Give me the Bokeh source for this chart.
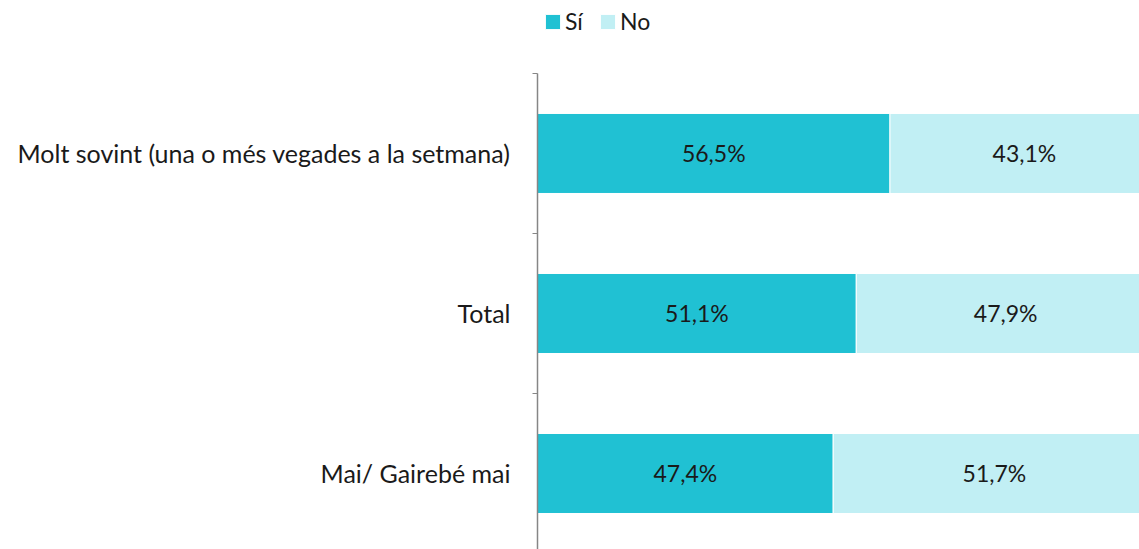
from bokeh.plotting import figure
from bokeh.models import ColumnDataSource, FixedTicker, Legend, LegendItem, LabelSet, Range1d
from bokeh.core.properties import value
from bokeh.embed import file_html
from bokeh.resources import INLINE

categories = ["Molt sovint (una o més vegades a la setmana)", "Total", "Mai/ Gairebé mai"]
si_values = [56.5, 51.1, 47.4]
no_values = [43.1, 47.9, 51.7]
series_names = ["Sí", "No"]
colors = ["#20C1D3", "#C1EFF4"]

FONT = "Lato"
n = len(categories)
ypos = [n - i - 0.5 for i in range(n)]

src = ColumnDataSource(dict(
    y=ypos,
    si_end=si_values,
    no_end=[s + v for s, v in zip(si_values, no_values)],
    si_mid=[s / 2 for s in si_values],
    no_mid=[s + v / 2 for s, v in zip(si_values, no_values)],
    si_lbl=[f"{v:.1f}%".replace(".", ",") for v in si_values],
    no_lbl=[f"{v:.1f}%".replace(".", ",") for v in no_values],
    zero=[0] * n,
))

p = figure(width=1139, height=549, output_backend="svg", toolbar_location=None,
           x_range=Range1d(0, 96.5), y_range=Range1d(0.025, 3.456),
           min_border_left=537, min_border_top=0, min_border_right=0, min_border_bottom=0)
p.outline_line_color = None
p.background_fill_color = "white"
p.border_fill_color = "white"
p.xgrid.visible = False
p.ygrid.visible = False
p.xaxis.visible = False

r1 = p.hbar(y="y", left="zero", right="si_end", height=0.5, color=colors[0], line_color="white", line_width=1, source=src)
r2 = p.hbar(y="y", left="si_end", right="no_end", height=0.5, color=colors[1], line_color="white", line_width=1, source=src)

for xcol, tcol in (("si_mid", "si_lbl"), ("no_mid", "no_lbl")):
    p.add_layout(LabelSet(x=xcol, y="y", text=tcol, source=src, text_align="center",
                          text_baseline="middle", text_font=value(FONT), text_font_size="23px",
                          text_color="#1a1a1a"))

yax = p.yaxis[0]
yax.ticker = FixedTicker(ticks=ypos, minor_ticks=[0, 1, 2, 3])
yax.bounds = (0, 3)
yax.major_label_overrides = {y: c for y, c in zip(ypos, categories)}
yax.major_tick_out = 0
yax.major_tick_in = 0
yax.minor_tick_out = 5
yax.minor_tick_in = 0
yax.minor_tick_line_color = "#868686"
yax.axis_line_color = "#868686"
yax.axis_line_width = 1.5
yax.major_label_standoff = 22
yax.major_label_text_font = FONT
yax.major_label_text_font_size = "25px"
yax.major_label_text_color = "#1a1a1a"

legend = Legend(items=[LegendItem(label=series_names[0], renderers=[r1]),
                       LegendItem(label=series_names[1], renderers=[r2])],
                orientation="horizontal", location=(6, 514), padding=0, margin=0,
                spacing=13, glyph_width=19, glyph_height=19, label_standoff=3,
                label_text_font=FONT, label_text_font_size="23px", label_text_color="#1a1a1a",
                border_line_color=None, background_fill_alpha=0)
p.add_layout(legend, "center")

open("out.html", "w").write(file_html(p, INLINE))
